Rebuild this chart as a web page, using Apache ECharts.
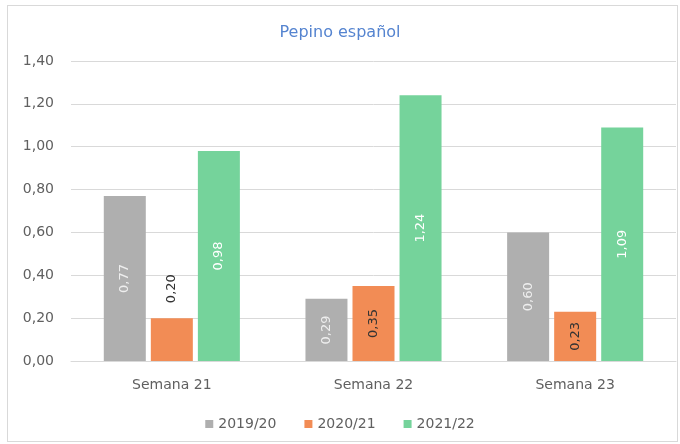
<!DOCTYPE html>
<html>
<head>
<meta charset="utf-8">
<script src="https://cdn.jsdelivr.net/npm/echarts@6/dist/echarts.min.js"></script>
<style>
  html, body { margin: 0; padding: 0; background: #fff; }
  #frame { position: absolute; left: 7px; top: 5px; width: 671px; height: 437px; border: 1px solid #d9d9d9; box-sizing: border-box; }
  #chart { width: 680px; height: 444px; }
</style>
</head>
<body>
<div id="frame"></div>
<div id="chart"></div>
<script>
// datos del gráfico
const semanas = ['Semana 21', 'Semana 22', 'Semana 23']
const campanas = ['2019/20', '2020/21', '2021/22']
const v2019 = [0.77, 0.29, 0.60]
const v2020 = [0.20, 0.35, 0.23]
const v2021 = [0.98, 1.24, 1.09]

const colores = ['#afafaf', '#f28c55', '#75d39b']
const colorEtiqueta = ['#eeeeee', '#333333', '#ffffff']
const fuente = '"DejaVu Sans", sans-serif'

const coma = (v) => v.toFixed(2).replace('.', ',')

const chart = echarts.init(document.getElementById('chart'))

const serie = (nombre, datos, i) => ({
  name: nombre,
  type: 'bar',
  data: datos.map((v, j) => {
    // la etiqueta de 0,20 no cabe dentro, va encima de la barra
    if (i === 1 && j === 0) {
      return {
        value: v,
        label: { position: 'top', align: 'left', verticalAlign: 'middle', distance: 15, color: '#333333' }
      }
    }
    return v
  }),
  barWidth: 42,
  barGap: '12%',
  itemStyle: { color: colores[i] },
  label: {
    show: true,
    position: 'inside',
    rotate: 90,
    fontFamily: fuente,
    fontSize: 13,
    color: colorEtiqueta[i],
    formatter: (p) => coma(p.value)
  }
})

chart.setOption({
  animation: false,
  title: {
    text: 'Pepino español',
    left: 'center',
    top: 20,
    textStyle: { color: '#5584d0', fontSize: 16, fontWeight: 'normal', fontFamily: fuente }
  },
  legend: {
    top: 412,
    left: 'center',
    itemWidth: 8,
    itemHeight: 8,
    itemGap: 28,
    icon: 'rect',
    textStyle: { color: '#606060', fontSize: 14, fontFamily: fuente }
  },
  grid: { left: 71, right: 4, top: 61, bottom: 83 },
  xAxis: {
    type: 'category',
    data: semanas,
    axisTick: { show: false },
    axisLine: { lineStyle: { color: '#d9d9d9', width: 1 } },
    axisLabel: { color: '#606060', fontSize: 14, margin: 17, fontFamily: fuente }
  },
  yAxis: {
    type: 'value',
    min: 0,
    max: 1.4,
    interval: 0.2,
    axisLabel: { color: '#606060', fontSize: 14, margin: 17, fontFamily: fuente, formatter: (v) => coma(v) },
    splitLine: { lineStyle: { color: '#d9d9d9' } }
  },
  series: [
    serie(campanas[0], v2019, 0),
    serie(campanas[1], v2020, 1),
    serie(campanas[2], v2021, 2)
  ]
})
</script>
</body>
</html>
